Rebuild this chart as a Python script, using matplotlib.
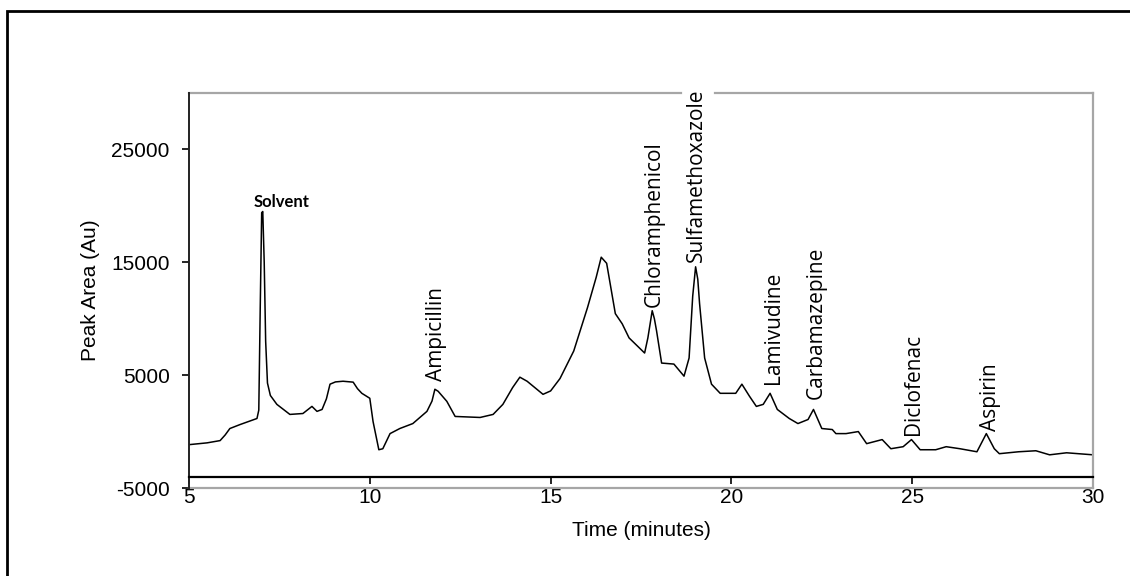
import matplotlib
matplotlib.use("Agg")
import matplotlib.pyplot as plt
from matplotlib.patches import Rectangle

plt.rcParams["axes.unicode_minus"] = False

# chromatogram trace
time_min = [5.0, 5.5, 5.86, 6.0, 6.13, 6.41, 6.88, 6.93, 6.97, 7.01, 7.04, 7.08, 7.12, 7.17,
            7.25, 7.43, 7.79, 8.15, 8.40, 8.54, 8.68, 8.80, 8.90, 9.05, 9.26, 9.54, 9.66, 9.78,
            10.0, 10.09, 10.25, 10.36, 10.56, 10.83, 11.19, 11.58, 11.72, 11.80, 11.89, 12.13,
            12.36, 13.05, 13.41, 13.68, 13.95, 14.15, 14.35, 14.79, 15.0, 15.26, 15.64, 16.02,
            16.26, 16.40, 16.55, 16.79, 16.98, 17.17, 17.60, 17.69, 17.81, 17.87, 17.93, 18.07,
            18.41, 18.69, 18.83, 18.93, 19.01, 19.07, 19.12, 19.26, 19.45, 19.69, 20.12, 20.29,
            20.50, 20.69, 20.88, 21.07, 21.27, 21.60, 21.84, 22.12, 22.27, 22.50, 22.79, 22.89,
            23.17, 23.51, 23.74, 24.17, 24.41, 24.75, 24.98, 25.22, 25.65, 25.94, 26.32, 26.79,
            27.05, 27.27, 27.41, 27.94, 28.42, 28.80, 29.27, 30.0]
peak_area = [-1160, -1000, -800, -300, 270, 620, 1160, 1900, 11000, 19400, 19500, 15000, 8000,
             4300, 3200, 2410, 1520, 1600, 2230, 1790, 1960, 2900, 4200, 4400, 4460, 4380, 3800,
             3390, 2950, 890, -1610, -1520, -180, 270, 710, 1790, 2700, 3750, 3570, 2680, 1340,
             1250, 1520, 2410, 3900, 4820, 4460, 3300, 3600, 4700, 7140, 10980, 13660, 15450,
             14910, 10450, 9550, 8300, 6960, 8300, 10710, 10000, 8930, 6070, 5980, 4910, 6520,
             12000, 14600, 13500, 11340, 6520, 4200, 3390, 3390, 4200, 3130, 2230, 2410, 3390,
             1960, 1160, 710, 1070, 1960, 270, 180, -180, -180, 0, -1070, -710, -1520, -1340,
             -710, -1610, -1610, -1340, -1520, -1790, -180, -1520, -1960, -1790, -1700, -2060,
             -1880, -2060]

compounds = ["Ampicillin", "Chloramphenicol", "Sulfamethoxazole", "Lamivudine",
             "Carbamazepine", "Diclofenac", "Aspirin"]
label_x = [11.85, 17.88, 19.02, 21.16, 22.34, 25.03, 27.16]
label_y = [4460, 11070, 15000, 4200, 2860, -270, 90]

fig = plt.figure(figsize=(11.3, 5.76), dpi=100)
ax = fig.add_axes([189 / 1130, 88 / 576, 904 / 1130, 395 / 576])

ax.plot(time_min, peak_area, color="black", lw=1.1)

ax.set_xlim(5, 30)
ax.set_ylim(-5000, 30000)
ax.set_xticks([5, 10, 15, 20, 25, 30])
ax.set_yticks([-5000, 5000, 15000, 25000])

# frame: dark left spine, x axis drawn at -4000, grey box edges
gray = "#a6a6a6"
ax.spines["bottom"].set_position(("data", -4000))
ax.spines["bottom"].set_linewidth(1.6)
ax.spines["left"].set_color("#222222")
ax.spines["left"].set_linewidth(1.4)
ax.spines["right"].set_color(gray)
ax.spines["right"].set_linewidth(1.6)
ax.spines["top"].set_visible(False)
ax.axhline(-5000, color=gray, lw=1.6, clip_on=False)
gap = label_x[2]
ax.plot([5, gap - 0.4], [30000, 30000], color=gray, lw=1.6, clip_on=False)
ax.plot([gap + 0.52, 30], [30000, 30000], color=gray, lw=1.6, clip_on=False)

ax.tick_params(axis="x", direction="out", length=5, width=1.2, pad=3,
               labelsize=15)
ax.tick_params(axis="y", direction="out", length=5, width=1.2, pad=9,
               labelsize=15)
for t in ax.get_xticklabels() + ax.get_yticklabels():
    t.set_fontfamily("Liberation Sans")

ax.set_xlabel("Time (minutes)", fontsize=15, family="Liberation Sans", labelpad=10)
ax.set_ylabel("Peak Area (Au)", fontsize=15, family="Liberation Sans", labelpad=8)

ax.text(7.56, 20360, "Solvent", fontsize=12, fontweight="bold", family="Lato",
        ha="center", va="center")
for name, x, y in zip(compounds, label_x, label_y):
    ax.text(x, y, name, rotation=90, ha="center", va="bottom", fontsize=15,
            family="Open Sans", clip_on=False)

# outer frame around the whole figure
fig.patches.append(Rectangle((7 / 1130, -0.1), 1.2, 1.1 - 11.5 / 576, fill=False,
                             edgecolor="black", lw=2, transform=fig.transFigure))

fig.savefig("out.png", dpi=100)
